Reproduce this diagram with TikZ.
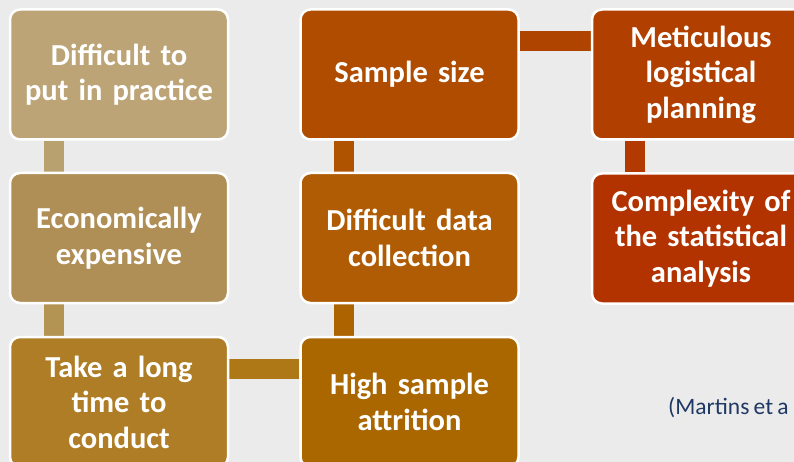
\documentclass[tikz,border=0pt]{standalone}
\usepackage{fontspec}
\setmainfont{Carlito}[BoldFont={Carlito Bold}, WordSpace=0.8]
\usetikzlibrary{backgrounds}
\definecolor{bgc}{HTML}{EBEBEB}
\definecolor{cA}{HTML}{BCA476}
\definecolor{cB}{HTML}{AF8F55}
\definecolor{cC}{HTML}{AE7D25}
\definecolor{cD}{HTML}{AA6700}
\definecolor{cE}{HTML}{B05C04}
\definecolor{cF}{HTML}{B04C00}
\definecolor{cG}{HTML}{B03F00}
\definecolor{cH}{HTML}{B23300}
\definecolor{lAB}{HTML}{B9A06F}
\definecolor{lBC}{HTML}{B39453}
\definecolor{lCD}{HTML}{AF7817}
\definecolor{lDE}{HTML}{AC6300}
\definecolor{lEF}{HTML}{AF5300}
\definecolor{lFG}{HTML}{AF4400}
\definecolor{lGH}{HTML}{B23900}
\definecolor{cite}{HTML}{203864}
\tikzset{
  box/.style={draw=white, line width=2.5pt, rounded corners=10pt, minimum width=218pt, minimum height=130pt, inner sep=0pt, align=center, text=white, font=\fontsize{30.5}{35.5}\selectfont\bfseries, text width=216pt},
  conn/.style={line width=20pt}
}
\begin{document}
\begin{tikzpicture}[x=1pt,y=-1pt]
\useasboundingbox (0,0) rectangle (794,462);
\clip (0,0) rectangle (794,462);
\node[box, fill=cA] (a) at (119,74.5) {Difficult to\\put in practice};
\node[box, fill=cB] (b) at (119,238) {Economically\\expensive};
\node[box, fill=cC] (c) at (119,402) {Take a long\\time to\\conduct};
\node[box, fill=cD] (d) at (409.5,402) {High sample\\attrition};
\node[box, fill=cE] (e) at (409.5,238) {Difficult data\\collection};
\node[box, fill=cF] (f) at (409.5,74.5) {Sample size};
\node[box, fill=cG] (g) at (701,74.5) {Meticulous\\logistical\\planning};
\node[box, fill=cH] (h) at (701,238.5) {Complexity of\\the statistical\\analysis};
\node[anchor=base west, inner sep=0pt, text=cite, font=\fontsize{23.5}{27}\selectfont] (cit) at (668,414) {(Martins et a};
\begin{scope}[on background layer]
\fill[bgc] (0,0) rectangle (794,462);
\draw[conn, lAB] ([xshift=45pt]a.south west) -- ([xshift=45pt]b.north west);
\draw[conn, lBC] ([xshift=45pt]b.south west) -- ([xshift=45pt]c.north west);
\draw[conn, lCD] ([yshift=-33pt]c.north east) -- ([yshift=-33pt]d.north west);
\draw[conn, lDE] ([xshift=45pt]d.north west) -- ([xshift=45pt]e.south west);
\draw[conn, lEF] ([xshift=45pt]e.north west) -- ([xshift=45pt]f.south west);
\draw[conn, lFG] ([yshift=-33pt]f.north east) -- ([yshift=-33pt]g.north west);
\draw[conn, lGH] ([xshift=44pt]g.south west) -- ([xshift=44pt]h.north west);
\end{scope}
\end{tikzpicture}
\end{document}
